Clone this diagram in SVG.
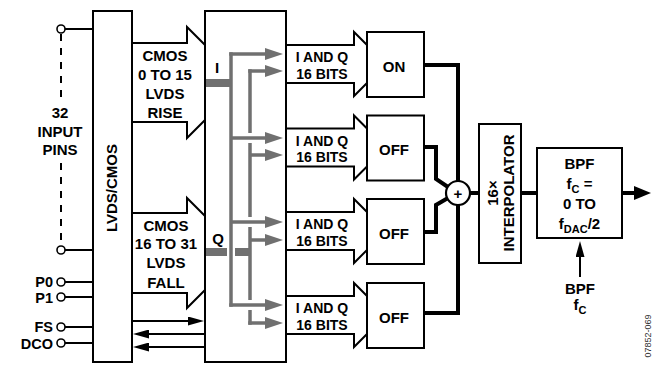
<svg xmlns="http://www.w3.org/2000/svg" width="658" height="368" viewBox="0 0 658 368">
<defs>
<style>
.box{fill:#fff;stroke:#000;stroke-width:2}
.bus{fill:#fff;stroke:#000;stroke-width:2;stroke-linejoin:miter}
.t{font-family:"Liberation Sans",Arial,sans-serif;font-weight:bold;font-size:15px;fill:#000;text-anchor:middle}
.iq{font-size:14px}
.pl{font-family:"Liberation Sans",Arial,sans-serif;font-weight:bold;font-size:14.5px;fill:#000;text-anchor:end}
.g{stroke:#707070;stroke-width:3.5;fill:none}
.gf{fill:#707070}
.w{stroke:#000;stroke-width:2;fill:none}
.thick{stroke:#000;stroke-width:4;fill:none;stroke-linejoin:miter}
.pin{fill:#fff;stroke:#000;stroke-width:1.6}
.sub{font-size:11px}
</style>
<marker id="ah" markerUnits="userSpaceOnUse" markerWidth="16" markerHeight="9" refX="1" refY="4.5" orient="auto"><path d="M0,0 L16,4.5 L0,9 z" fill="#000"/></marker>
<marker id="ahb" markerUnits="userSpaceOnUse" markerWidth="17" markerHeight="14" refX="1" refY="7" orient="auto"><path d="M0,0 L17,7 L0,14 z" fill="#000"/></marker>
<marker id="ahg" markerUnits="userSpaceOnUse" markerWidth="18" markerHeight="12" refX="1" refY="6" orient="auto"><path d="M0,0 L18,6 L0,12 z" fill="#707070"/></marker>
</defs>
<rect width="658" height="368" fill="#fff"/>

<g id="pins">
<path class="w" d="M65,29 H93 M65,250 H93 M65,282 H93 M65,297 H93 M65,327 H93 M65,343 H93"/>
<path class="w" stroke-width="1.6" stroke-dasharray="7 7" d="M61,34 V101 M61,163 V246"/>
<circle class="pin" cx="61" cy="29" r="4"/>
<circle class="pin" cx="61" cy="250" r="4"/>
<circle class="pin" cx="61" cy="282" r="4"/>
<circle class="pin" cx="61" cy="297" r="4"/>
<circle class="pin" cx="61" cy="327" r="4"/>
<circle class="pin" cx="61" cy="343" r="4"/>
<text class="t" x="60" y="117.5">32</text>
<text class="t" x="60" y="136.5">INPUT</text>
<text class="t" x="60" y="155">PINS</text>
<text class="pl" x="53" y="287">P0</text>
<text class="pl" x="53" y="302.5">P1</text>
<text class="pl" x="53" y="332">FS</text>
<text class="pl" x="53" y="348.5">DCO</text>
</g>

<g id="bus-rise">
<polygon class="bus" points="132,43 187,43 187,27 242.5,82.5 187,138 187,122 132,122"/>
<text class="t" x="165" y="60.5">CMOS</text>
<text class="t" x="165" y="79.5">0 TO 15</text>
<text class="t" x="165" y="98.5">LVDS</text>
<text class="t" x="165" y="117.5">RISE</text>
</g>
<g id="bus-fall">
<polygon class="bus" points="132,213 187,213 187,198 242,253 187,308 187,293 132,293"/>
<text class="t" x="166" y="230.5">CMOS</text>
<text class="t" x="166" y="249">16 TO 31</text>
<text class="t" x="166" y="268">LVDS</text>
<text class="t" x="166" y="287.5">FALL</text>
</g>

<g id="bus-iq">
<polygon class="bus" points="286,45 354,45 354,32 386,64 354,96 354,83 286,83"/>
<polygon class="bus" points="286,128.5 354,128.5 354,115.5 386,147.5 354,179.5 354,166.5 286,166.5"/>
<polygon class="bus" points="286,212 354,212 354,199 386,231 354,263 354,250 286,250"/>
<polygon class="bus" points="286,296 354,296 354,283 386,315 354,347 354,334 286,334"/>
<text class="t iq" x="322" y="62">I AND Q</text>
<text class="t iq" x="322" y="78.5">16 BITS</text>
<text class="t iq" x="322" y="145.5">I AND Q</text>
<text class="t iq" x="322" y="162">16 BITS</text>
<text class="t iq" x="322" y="229">I AND Q</text>
<text class="t iq" x="322" y="245.5">16 BITS</text>
<text class="t iq" x="322" y="313">I AND Q</text>
<text class="t iq" x="322" y="329.5">16 BITS</text>
</g>

<g id="lvds-cmos">
<rect class="box" x="93" y="11" width="39" height="351"/>
<text class="t" transform="translate(112,188) rotate(-90)" x="0" y="5.4">LVDS/CMOS</text>
</g>

<g id="demux">
<rect class="box" x="205" y="11" width="81" height="351"/>
<text class="t" x="217" y="72.5">I</text>
<text class="t" x="218" y="243.5">Q</text>
</g>

<g id="connectors">
<rect class="gf" x="206" y="79" width="26" height="8"/>
<rect class="gf" x="206" y="248" width="21" height="8"/>
<rect class="gf" x="235" y="248" width="16" height="8"/>
<path class="g" d="M231,52.25 V306.75"/>
<path class="g" d="M229.25,54 H266" marker-end="url(#ahg)"/>
<path class="g" d="M231,138 H266" marker-end="url(#ahg)"/>
<path class="g" d="M231,222 H266" marker-end="url(#ahg)"/>
<path class="g" d="M229.25,305 H266" marker-end="url(#ahg)"/>
<path class="g" d="M250,69.25 V133 M250,143 V217 M250,227 V300 M250,310 V324.75"/>
<path class="g" d="M248.25,71 H266" marker-end="url(#ahg)"/>
<path class="g" d="M250,155 H266" marker-end="url(#ahg)"/>
<path class="g" d="M250,240 H266" marker-end="url(#ahg)"/>
<path class="g" d="M248.25,323 H266" marker-end="url(#ahg)"/>
<path class="w" d="M132,321 H189" marker-end="url(#ah)"/>
<path class="w" d="M204,334 H148" marker-end="url(#ah)"/>
<path class="w" d="M204,347 H148" marker-end="url(#ah)"/>
<path class="thick" d="M424,65 H458 V313 H424"/>
<path class="thick" d="M424,147 H436 V179 L448,187"/>
<path class="thick" d="M424,232 H436 V205 L448,198"/>
<path class="thick" d="M470,193 H479 M521,193 H537"/>
<path class="thick" d="M622,193 H635" marker-end="url(#ahb)"/>
<path class="w" d="M580,277 V256" marker-end="url(#ah)"/>
</g>

<g id="sw1"><rect class="box" x="367" y="32" width="57" height="65"/><text class="t" x="394" y="71.5">ON</text></g>
<g id="sw2"><rect class="box" x="367" y="115.5" width="57" height="65"/><text class="t" x="394" y="155">OFF</text></g>
<g id="sw3"><rect class="box" x="367" y="199" width="57" height="65"/><text class="t" x="394" y="238.5">OFF</text></g>
<g id="sw4"><rect class="box" x="367" y="283" width="57" height="65"/><text class="t" x="394" y="322.5">OFF</text></g>

<g id="sum">
<circle cx="458" cy="193" r="12" fill="#fff" stroke="#000" stroke-width="2.2"/>
<text class="t" x="458" y="199" font-size="17">+</text>
</g>

<g id="interpolator">
<rect class="box" x="479" y="124" width="42" height="139"/>
<text class="t" transform="translate(500,193) rotate(-90)"><tspan x="0" y="-1.8">16×</tspan><tspan x="0" y="13.6">INTERPOLATOR</tspan></text>
</g>

<g id="bpf">
<rect class="box" x="537" y="148" width="85" height="90"/>
<text class="t" x="579.5" y="168.5">BPF</text>
<text class="t" x="579.5" y="188.5">f<tspan class="sub" dy="4">C</tspan><tspan dy="-4"> =</tspan></text>
<text class="t" x="579.5" y="208.5">0 TO</text>
<text class="t" x="579.5" y="228.5">f<tspan class="sub" dy="4">DAC</tspan><tspan dy="-4">/2</tspan></text>
</g>

<g id="bpf-fc">
<text class="t" x="580" y="293.5">BPF</text>
<text class="t" x="580" y="309.5">f<tspan class="sub" dy="4">C</tspan></text>
</g>

<text transform="translate(648,336) rotate(-90)" x="0" y="3" font-family="Liberation Sans, Arial, sans-serif" font-size="9" fill="#333" text-anchor="middle">07852-069</text>
</svg>
